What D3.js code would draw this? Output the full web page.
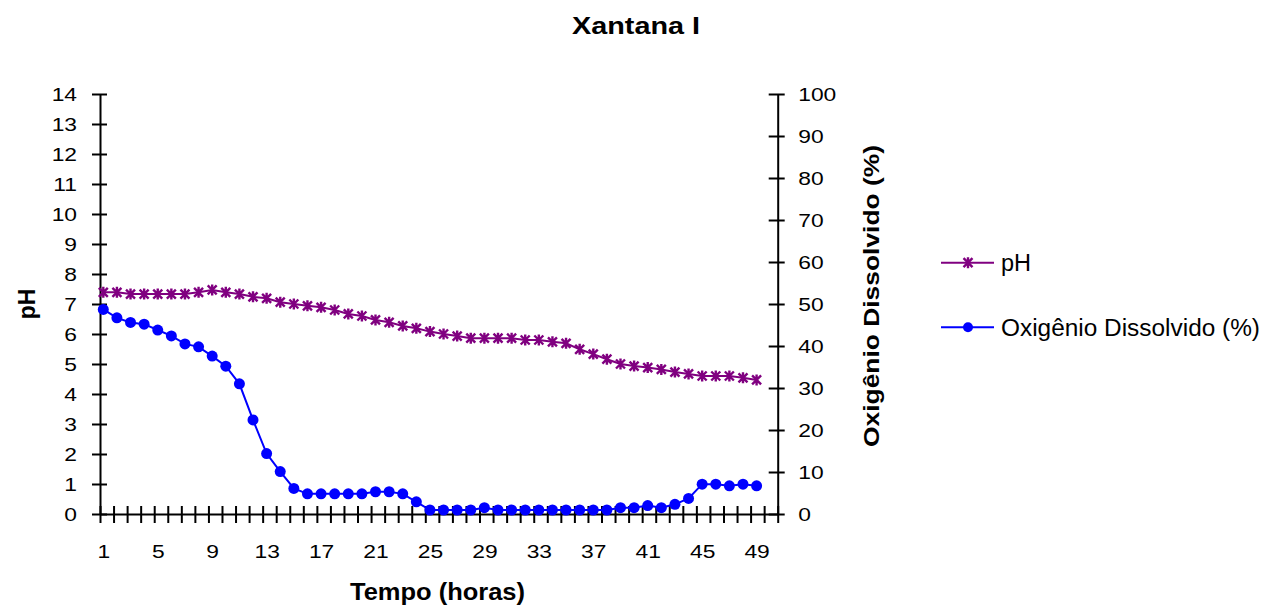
<!DOCTYPE html>
<html>
<head>
<meta charset="utf-8">
<script src="https://cdn.jsdelivr.net/npm/d3@7"></script>
<style>
  html, body { margin: 0; padding: 0; background: #fff; }
  svg { display: block; font-family: "Liberation Sans", Arial, sans-serif; }
</style>
</head>
<body>
<svg id="chart" width="1265" height="610"></svg>
<script>
// Fermentation time (hours)
const hours = [1,2,3,4,5,6,7,8,9,10,11,12,13,14,15,16,17,18,19,20,21,22,23,24,25,
               26,27,28,29,30,31,32,33,34,35,36,37,38,39,40,41,42,43,44,45,46,47,48,49];
// pH per hour
const phValues = [7.39,7.39,7.33,7.33,7.33,7.33,7.33,7.39,7.47,7.39,
                  7.33,7.24,7.19,7.06,7.00,6.94,6.89,6.80,6.67,6.60,
                  6.47,6.39,6.27,6.19,6.08,6.00,5.93,5.86,5.86,5.86,
                  5.86,5.80,5.80,5.74,5.69,5.49,5.33,5.16,5.00,4.93,
                  4.88,4.82,4.73,4.67,4.60,4.60,4.60,4.54,4.47];
// Dissolved oxygen (%) per hour
const o2Values = [48.7,46.7,45.6,45.2,43.8,42.4,40.5,39.8,37.6,35.2,
                  31.0,22.4,14.4,10.1,6.1,4.8,4.8,4.8,4.8,4.8,
                  5.3,5.3,4.8,2.9,0.95,0.95,0.95,0.95,1.5,0.95,
                  0.95,0.95,0.95,0.95,0.95,0.95,0.95,0.95,1.5,1.5,
                  2.0,1.5,2.3,3.7,7.1,7.1,6.7,7.1,6.7];
const xTickLabels = [1,5,9,13,17,21,25,29,33,37,41,45,49];
const phTicks = [0,1,2,3,4,5,6,7,8,9,10,11,12,13,14];
const o2Ticks = [0,10,20,30,40,50,60,70,80,90,100];

const PH_COLOR = "#800080";
const O2_COLOR = "#0000FF";

const svg = d3.select("#chart");

const plot = { left: 100, right: 777.7, top: 94, bottom: 514 };

// point positions and category boundaries on the time axis
const x = d3.scaleLinear().domain([1, 49]).range([103.3, 756.6]);
const xCat = d3.scaleLinear().domain([0, 50]).range([plot.left, plot.right]);
const yPh = d3.scaleLinear().domain([0, 14]).range([plot.bottom, plot.top]);
const yO2 = d3.scaleLinear().domain([0, 100]).range([plot.bottom, plot.top]);

// widen glyphs horizontally by a factor
function stretch(sel, k) {
  sel.each(function () {
    const w = this.getComputedTextLength();
    this.setAttribute("textLength", w * k);
    this.setAttribute("lengthAdjust", "spacingAndGlyphs");
  });
}
function fitWidth(sel, w) {
  sel.attr("textLength", w).attr("lengthAdjust", "spacingAndGlyphs");
}

// ---- left axis (pH)
const gL = svg.append("g").attr("transform", `translate(${plot.left},0)`)
  .call(d3.axisLeft(yPh).tickValues(phTicks).tickSize(0).tickFormat(d3.format("d")));
gL.select(".domain").attr("stroke", "#000").attr("stroke-width", 2);
gL.selectAll(".tick line").attr("x1", -8).attr("x2", 7).attr("stroke", "#000").attr("stroke-width", 2);
gL.selectAll(".tick text").attr("x", -23).attr("dy", "0.35em")
  .attr("font-size", 19).attr("fill", "#000").attr("font-family", "Liberation Sans, Arial, sans-serif")
  .call(stretch, 1.2);

// ---- right axis (dissolved oxygen)
const gR = svg.append("g").attr("transform", `translate(${plot.right},0)`)
  .call(d3.axisRight(yO2).tickValues(o2Ticks).tickSize(0).tickFormat(d3.format("d")));
gR.select(".domain").attr("stroke", "#000").attr("stroke-width", 2);
gR.selectAll(".tick line").attr("x1", -9).attr("x2", 7).attr("stroke", "#000").attr("stroke-width", 2);
gR.selectAll(".tick text").attr("x", 20.5).attr("dy", "0.35em")
  .attr("font-size", 19).attr("fill", "#000").attr("font-family", "Liberation Sans, Arial, sans-serif")
  .call(stretch, 1.2);

// ---- bottom axis: category tick marks
const gB = svg.append("g").attr("transform", `translate(0,${plot.bottom})`)
  .call(d3.axisBottom(xCat).tickValues(d3.range(0, 51)).tickSize(0).tickFormat(""));
gB.select(".domain").attr("stroke", "#000").attr("stroke-width", 2);
gB.selectAll(".tick line").attr("y1", -8).attr("y2", 9).attr("stroke", "#000").attr("stroke-width", 2);

// ---- bottom axis: hour labels
const gBL = svg.append("g").attr("transform", `translate(0,${plot.bottom})`)
  .call(d3.axisBottom(x).tickValues(xTickLabels).tickSize(0).tickFormat(d3.format("d")));
gBL.select(".domain").remove();
gBL.selectAll(".tick text").attr("y", 44).attr("dy", 0)
  .attr("font-size", 19).attr("fill", "#000").attr("font-family", "Liberation Sans, Arial, sans-serif")
  .call(stretch, 1.2);

// ---- series lines
const phLine = d3.line().x((d, i) => x(hours[i])).y(d => yPh(d));
const o2Line = d3.line().x((d, i) => x(hours[i])).y(d => yO2(d));

svg.append("path").datum(o2Values).attr("d", o2Line)
  .attr("fill", "none").attr("stroke", O2_COLOR).attr("stroke-width", 2);
svg.append("path").datum(phValues).attr("d", phLine)
  .attr("fill", "none").attr("stroke", PH_COLOR).attr("stroke-width", 2);

// asterisk marker
const starPath = "M-4.5,-4.5L4.5,4.5M-4.5,4.5L4.5,-4.5M0,-5.5L0,5.5";

svg.append("g").selectAll("circle").data(o2Values).join("circle")
  .attr("cx", (d, i) => x(hours[i])).attr("cy", d => yO2(d))
  .attr("r", 5.5).attr("fill", O2_COLOR);

svg.append("g").selectAll("path").data(phValues).join("path")
  .attr("transform", (d, i) => `translate(${x(hours[i])},${yPh(d)})`)
  .attr("d", starPath).attr("stroke", PH_COLOR).attr("stroke-width", 2.4).attr("fill", "none");

// ---- titles
svg.append("text").attr("x", 636).attr("y", 34).attr("text-anchor", "middle")
  .attr("font-size", 23).attr("font-weight", "bold").text("Xantana I")
  .call(fitWidth, 128);

svg.append("text").attr("x", 437.5).attr("y", 600).attr("text-anchor", "middle")
  .attr("font-size", 23).attr("font-weight", "bold").text("Tempo (horas)")
  .call(fitWidth, 175);

svg.append("text").attr("transform", "translate(35,304) rotate(-90)").attr("text-anchor", "middle")
  .attr("font-size", 23).attr("font-weight", "bold").text("pH");

svg.append("text").attr("transform", "translate(879,296) rotate(-90)").attr("text-anchor", "middle")
  .attr("font-size", 22).attr("font-weight", "bold").text("Oxigênio Dissolvido (%)")
  .call(fitWidth, 302);

// ---- legend
const legend = svg.append("g");
const legendItems = [
  { label: "pH", color: PH_COLOR, y: 262.7, marker: "star", width: null },
  { label: "Oxigênio Dissolvido (%)", color: O2_COLOR, y: 327.3, marker: "circle", width: 259 }
];
legendItems.forEach(it => {
  legend.append("line").attr("x1", 941).attr("x2", 994).attr("y1", it.y).attr("y2", it.y)
    .attr("stroke", it.color).attr("stroke-width", 2);
  if (it.marker === "star") {
    legend.append("path").attr("transform", `translate(968,${it.y})`)
      .attr("d", starPath).attr("stroke", it.color).attr("stroke-width", 2.4).attr("fill", "none");
  } else {
    legend.append("circle").attr("cx", 968).attr("cy", it.y).attr("r", 5).attr("fill", it.color);
  }
  const t = legend.append("text").attr("x", 1001).attr("y", it.y + 8.5)
    .attr("font-size", 23.5).attr("fill", "#000").text(it.label);
  if (it.width) t.call(fitWidth, it.width);
});
</script>
</body>
</html>
